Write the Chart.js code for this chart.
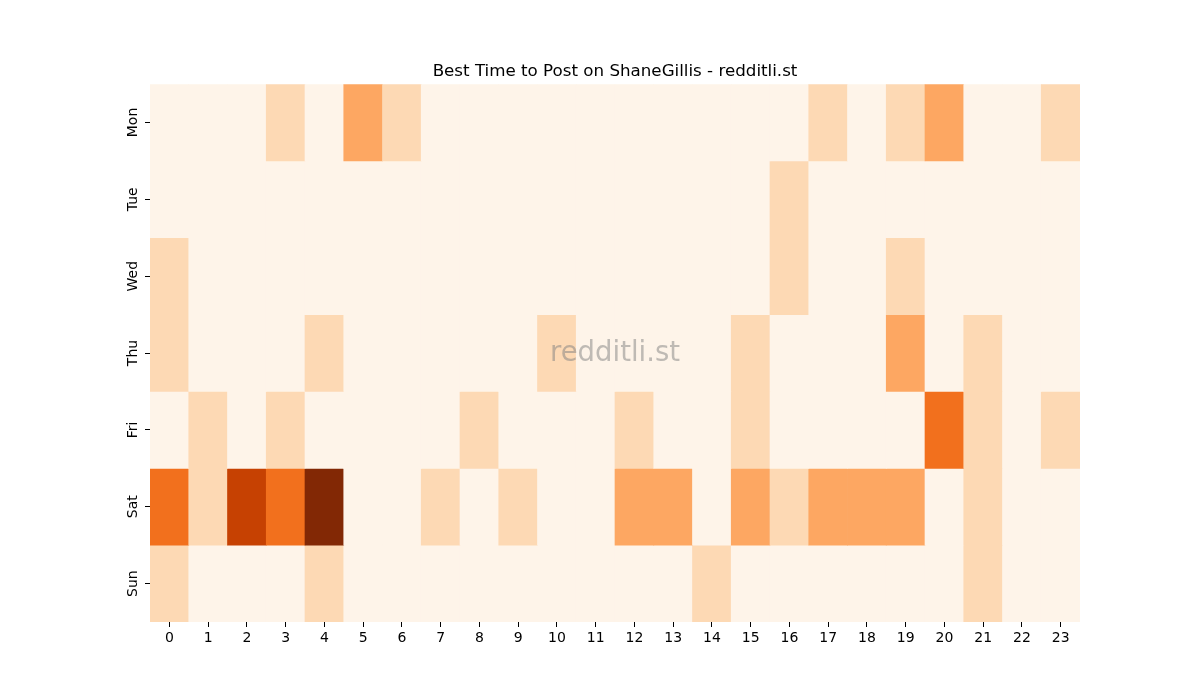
<!DOCTYPE html>
<html>
<head>
<meta charset="utf-8">
<title>Best Time to Post on ShaneGillis</title>
<script src="https://cdn.jsdelivr.net/npm/chart.js@4.4.1/dist/chart.umd.min.js"></script>
<style>
  html, body { margin: 0; padding: 0; background: #fff; }
  #wrap { width: 1200px; height: 700px; }
</style>
</head>
<body>
<div id="wrap"><canvas id="heat"></canvas></div>
<script>
// hours along the bottom, days down the side
const hours = ["0","1","2","3","4","5","6","7","8","9","10","11","12","13","14","15","16","17","18","19","20","21","22","23"];
const days = ["Mon", "Tue", "Wed", "Thu", "Fri", "Sat", "Sun"];

// post counts per hour, one array per day
const mon = [0,0,0,1,0,2,1,0,0,0,0,0,0,0,0,0,0,1,0,1,2,0,0,1];
const tue = [0,0,0,0,0,0,0,0,0,0,0,0,0,0,0,0,1,0,0,0,0,0,0,0];
const wed = [1,0,0,0,0,0,0,0,0,0,0,0,0,0,0,0,1,0,0,1,0,0,0,0];
const thu = [1,0,0,0,1,0,0,0,0,0,1,0,0,0,0,1,0,0,0,2,0,1,0,0];
const fri = [0,1,0,1,0,0,0,0,1,0,0,0,1,0,0,1,0,0,0,0,3,1,0,1];
const sat = [3,1,4,3,5,0,0,1,0,1,0,0,2,2,0,2,1,2,2,2,0,1,0,0];
const sun = [1,0,0,0,1,0,0,0,0,0,0,0,0,0,1,0,0,0,0,0,0,1,0,0];
const rows = [mon, tue, wed, thu, fri, sat, sun];

// Oranges colormap, sampled at 0..5
const oranges = ["#fef4e9", "#fdd9b4", "#fda762", "#f2701d", "#c64102", "#822805"];

// each day is a dataset of floating bars spanning [row, row+1]
const datasets = rows.map((vals, d) => ({
    label: days[d],
    data: vals.map(() => [d, d + 1]),
    backgroundColor: vals.map((v) => oranges[v]),
    borderWidth: 0,
    barPercentage: 1.0,
    categoryPercentage: 1.0,
    grouped: false,
}));

// faint site watermark in the middle of the plot
const watermark = {
    id: "watermark",
    afterDatasetsDraw(chart) {
        const { ctx, chartArea } = chart;
        ctx.save();
        ctx.font = "27.5px 'DejaVu Sans'";
        ctx.fillStyle = "rgba(128,128,128,0.5)";
        ctx.textAlign = "center";
        ctx.textBaseline = "middle";
        ctx.fillText("redditli.st", (chartArea.left + chartArea.right) / 2, (chartArea.top + chartArea.bottom) / 2 + 1);
        ctx.restore();
    },
};

const tickFont = { family: "'DejaVu Sans'", size: 14 };

new Chart(document.getElementById("heat"), {
    type: "bar",
    data: { labels: hours, datasets },
    options: {
        responsive: true,
        maintainAspectRatio: false,
        animation: false,
        layout: { padding: { left: 120, right: 90, top: 0, bottom: 48 } },
        plugins: {
            legend: { display: false },
            tooltip: { enabled: false },
            title: {
                display: true,
                text: "Best Time to Post on ShaneGillis - redditli.st",
                color: "#000",
                font: { family: "'DejaVu Sans'", size: 16.7, weight: "normal" },
                padding: { top: 62, bottom: 2 },
            },
        },
        scales: {
            x: {
                type: "category",
                offset: true,
                border: { display: false },
                grid: {
                    offset: false,
                    drawOnChartArea: false,
                    drawTicks: true,
                    tickLength: 5,
                    tickWidth: 1,
                    tickColor: "#000",
                },
                ticks: { color: "#000", font: tickFont, padding: 3, maxRotation: 0, autoSkip: false },
                afterFit(scale) { scale.height = 30; },
            },
            y: {
                type: "linear",
                min: 0,
                max: 7,
                reverse: true,
                border: { display: false },
                grid: {
                    drawOnChartArea: false,
                    drawTicks: true,
                    tickLength: 5,
                    tickWidth: 1,
                    tickColor: (c) => (c.tick && c.tick.value % 1 === 0.5 ? "#000" : "rgba(0,0,0,0)"),
                },
                ticks: {
                    stepSize: 0.5,
                    autoSkip: false,
                    color: "#000",
                    font: tickFont,
                    minRotation: 90,
                    maxRotation: 90,
                    crossAlign: "center",
                    padding: -3.5,
                    callback: (v) => (v % 1 === 0.5 ? days[Math.floor(v)] : ""),
                },
                afterFit(scale) { scale.width = 30; },
            },
            // empty spacer on the right so the title centres over the plot
            spacer: {
                type: "linear",
                position: "right",
                display: true,
                border: { display: false },
                grid: { display: false },
                ticks: { display: false },
                afterFit(scale) { scale.width = 30; },
            },
        },
    },
    plugins: [watermark],
});
</script>
</body>
</html>
